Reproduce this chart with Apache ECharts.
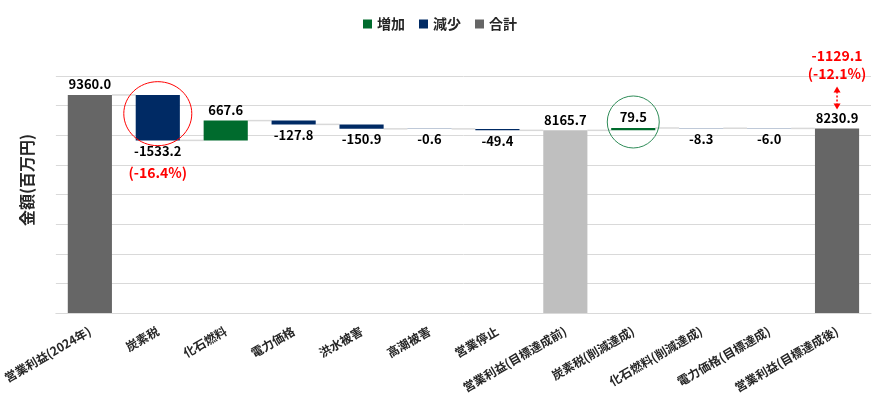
<!DOCTYPE html>
<html><head><meta charset="utf-8">
<script src="https://cdn.jsdelivr.net/npm/echarts@6/dist/echarts.min.js"></script>
<style>html,body{margin:0;padding:0;background:#fff}#c{width:880px;height:400px}</style>
</head><body><div id="c"></div>
<script>
const categories = ['営業利益(2024年)','炭素税','化石燃料','電力価格','洪水被害','高潮被害','営業停止','営業利益(目標達成前)','炭素税(削減達成)','化石燃料(削減達成)','電力価格(目標達成)','営業利益(目標達成後)'];
const values = [9360.0, -1533.2, 667.6, -127.8, -150.9, -0.6, -49.4, 8165.7, 79.5, -8.3, -6.0, 8230.9];
const kinds = ['total','dec','inc','dec','dec','dec','dec','total','inc','dec','dec','total'];
const legendNames = ['増加','減少','合計'];
const yMin = 2000, yMax = 10000, yInterval = 1000;

const FONT = '"Noto Sans CJK JP", "Noto Sans", sans-serif';
const base = [], inc = [], dec = [], tot = [], levels = [];
let run = 0;
values.forEach((v, i) => {
  const k = kinds[i];
  if (k === 'total') {
    base.push(0); inc.push('-'); dec.push('-');
    tot.push(i === 7 ? { value: v, itemStyle: { color: '#BFBFBF' } } : v);
    run = v;
  } else if (k === 'inc') {
    base.push(run); inc.push(v); dec.push('-'); tot.push('-');
    run += v;
  } else {
    run += v;
    base.push(run); dec.push(-v); inc.push('-'); tot.push('-');
  }
  levels.push(run);
});
const first = values[0];
const pct = d => '(' + (d / first * 100).toFixed(1) + '%)';
const finalDiff = levels[11] - first;

const labelStyle = { fontFamily: FONT, fontSize: 13, fontWeight: 'bold', color: '#000' };
const BW = 0.65;

const chart = echarts.init(document.getElementById('c'));
chart.setOption({
  animation: false,
  textStyle: { fontFamily: FONT },
  legend: {
    data: legendNames, top: 12, left: 'center', icon: 'rect', itemWidth: 9, itemHeight: 9, itemGap: 14,
    textStyle: { fontFamily: FONT, fontSize: 14, color: '#262626', fontWeight: 'bold' }
  },
  grid: { left: 54, right: 9, top: 76, bottom: 87 },
  xAxis: {
    type: 'category', data: categories,
    axisLine: { lineStyle: { color: '#D9D9D9', width: 1 } },
    axisTick: { show: false },
    axisLabel: { interval: 0, rotate: 30, fontSize: 12, color: '#262626', fontWeight: 'bold', margin: 17, fontFamily: FONT }
  },
  yAxis: {
    type: 'value', min: yMin, max: yMax, interval: yInterval,
    axisLabel: { show: false }, axisLine: { show: false }, axisTick: { show: false },
    splitLine: { lineStyle: { color: '#D9D9D9', width: 1 } },
    name: '金額(百万円)', nameLocation: 'middle', nameGap: 21,
    nameTextStyle: { fontFamily: FONT, fontSize: 16, color: '#262626', fontWeight: 'bold', padding: [0, 0, 0, 29] }
  },
  series: [
    { name: 'base', type: 'bar', stack: 'wf', data: base, barWidth: (BW * 100) + '%',
      itemStyle: { color: 'transparent' }, silent: true },
    { name: '増加', type: 'bar', stack: 'wf', data: inc, itemStyle: { color: '#006B2D' },
      label: Object.assign({ show: true, position: 'top', distance: 4, formatter: p => p.value.toFixed(1) }, labelStyle) },
    { name: '減少', type: 'bar', stack: 'wf', data: dec, itemStyle: { color: '#002A64' },
      label: Object.assign({ show: true, position: 'bottom', distance: 4, formatter: p => '-' + p.value.toFixed(1) }, labelStyle) },
    { name: '合計', type: 'bar', stack: 'wf', data: tot, itemStyle: { color: '#666666' },
      label: Object.assign({ show: true, position: 'top', distance: 4, formatter: p => Number(p.value).toFixed(1) }, labelStyle) },
    { name: 'connector', type: 'custom', silent: true, z: 1, clip: false,
      data: levels.slice(0, -1).map((l, i) => [i, l]),
      renderItem: (params, api) => {
        const i = api.value(0), lv = api.value(1);
        const p = api.coord([i, lv]);
        const bw = api.size([1, 0])[0];
        const half = bw * BW / 2;
        return { type: 'line', shape: { x1: p[0] + half, y1: p[1], x2: p[0] + bw - half, y2: p[1] },
          style: { stroke: '#D9D9D9', lineWidth: 1.5 } };
      } },
    { name: 'annot', type: 'custom', silent: true, z: 10, clip: false,
      data: [[11, levels[11]]],
      renderItem: (params, api) => {
        const mid1 = api.coord([1, (levels[0] + levels[1]) / 2]);
        const bot1 = api.coord([1, levels[1]]);
        const top8 = api.coord([8, levels[8]]);
        const top11 = api.coord([11, levels[11]]);
        const red = '#FF0000';
        const f = 'bold 14px ' + FONT;
        return { type: 'group', children: [
          { type: 'ellipse', shape: { cx: mid1[0], cy: mid1[1] - 4, rx: 34, ry: 32 },
            style: { fill: 'none', stroke: red, lineWidth: 1 } },
          { type: 'text', x: bot1[0], y: bot1[1] + 32,
            style: { text: pct(values[1]), fill: red, font: f, align: 'center', verticalAlign: 'middle' } },
          { type: 'circle', shape: { cx: top8[0], cy: top8[1] - 6, r: 26 },
            style: { fill: 'none', stroke: '#2E8B57', lineWidth: 1 } },
          { type: 'text', x: top11[0], y: top11[1] - 73,
            style: { text: finalDiff.toFixed(1), fill: red, font: f, align: 'center', verticalAlign: 'middle' } },
          { type: 'text', x: top11[0], y: top11[1] - 55,
            style: { text: pct(finalDiff), fill: red, font: f, align: 'center', verticalAlign: 'middle' } },
          { type: 'line', shape: { x1: top11[0], y1: top11[1] - 37, x2: top11[0], y2: top11[1] - 24 },
            style: { stroke: red, lineWidth: 1.5, lineDash: [2, 2] } },
          { type: 'polygon', shape: { points: [[top11[0], top11[1] - 42], [top11[0] - 3.5, top11[1] - 36], [top11[0] + 3.5, top11[1] - 36]] },
            style: { fill: red } },
          { type: 'polygon', shape: { points: [[top11[0], top11[1] - 19], [top11[0] - 3.5, top11[1] - 25], [top11[0] + 3.5, top11[1] - 25]] },
            style: { fill: red } }
        ] };
      } }
  ]
});
</script></body></html>
